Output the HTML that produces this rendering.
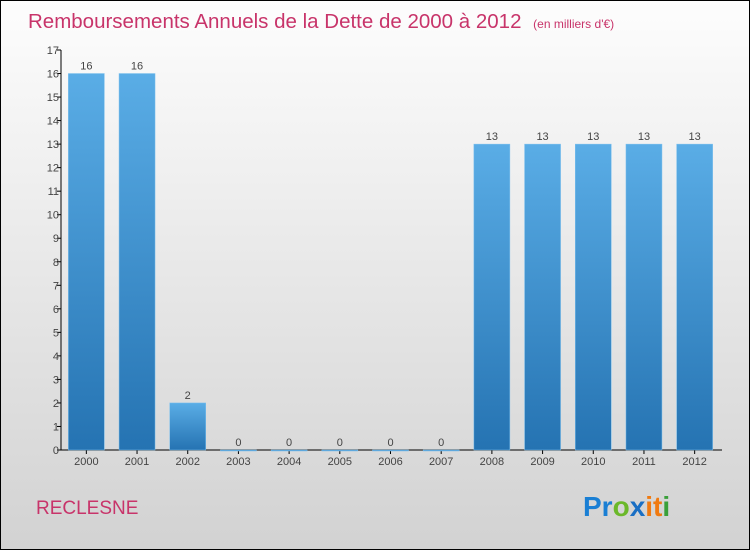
<!DOCTYPE html>
<html><head><meta charset="utf-8"><style>
body{margin:0;width:750px;height:550px;overflow:hidden}
svg{display:block;font-family:"Liberation Sans",sans-serif}
</style></head><body>
<svg width="750" height="550">
<defs>
<linearGradient id="bg" x1="0" y1="0" x2="0" y2="1"><stop offset="0" stop-color="#fdfdfd"/><stop offset="1" stop-color="#d2d2d2"/></linearGradient>
<linearGradient id="bar" x1="0" y1="0" x2="0" y2="1"><stop offset="0" stop-color="#5aade6"/><stop offset="1" stop-color="#2573b2"/></linearGradient>
</defs>
<rect x="0.5" y="0.5" width="749" height="549" fill="url(#bg)" stroke="#000"/>
<text x="28" y="28" font-size="20.5" fill="#c8346a">Remboursements Annuels de la Dette de 2000 à 2012 <tspan font-size="12" dx="6">(en milliers d'€)</tspan></text>
<g id="axes"></g><g id="bars"></g>
<text x="36" y="514" font-size="19" fill="#c8346a">RECLESNE</text>
<text x="583" y="516" font-size="28" font-weight="bold"><tspan fill="#1a7fd4">Pr</tspan><tspan fill="#6bb82a">o</tspan><tspan fill="#1a6fc4">x</tspan><tspan fill="#f07a10">it</tspan><tspan fill="#3aa03a">i</tspan></text>
</svg>
<script>
const categories=["2000","2001","2002","2003","2004","2005","2006","2007","2008","2009","2010","2011","2012"];
const values=[16,16,2,0,0,0,0,0,13,13,13,13,13];
const yTicks=[0,1,2,3,4,5,6,7,8,9,10,11,12,13,14,15,16,17];
const NS="http://www.w3.org/2000/svg";
const L=61,R=720,T=50,B=450,yMax=17;
const y=v=>B-(v/yMax)*(B-T);
const step=(R-L)/categories.length;
const x=i=>L+step*(i+0.5);
function mk(tag,attrs,parent,text){const e=document.createElementNS(NS,tag);for(const k in attrs)e.setAttribute(k,attrs[k]);if(text!==undefined)e.textContent=text;parent.appendChild(e);return e;}
const ax=document.getElementById('axes'),bg=document.getElementById('bars');
let e=mk('line',{x1:L,y1:T,x2:L,y2:B,stroke:'#000'},ax);


e=mk('line',{x1:L,y1:B,x2:R+2,y2:B,stroke:'#000'},ax);


yTicks.forEach(t=>{
 mk('line',{x1:L-4,y1:y(t),x2:L,y2:y(t),stroke:'#000'},ax);
 e=mk('text',{x:L-2,y:y(t)+4,'font-size':11,fill:'#444','text-anchor':'end'},ax,String(t));
 
 
});
categories.forEach((c,i)=>{
 const w=36,h=B-y(values[i]);
 e=mk('rect',{x:x(i)-w/2,y:y(values[i]),width:w,height:Math.max(h,1),fill:'url(#bar)',stroke:'#7cc0ee','stroke-width':0.5},bg);
 
 
 e=mk('text',{x:x(i),y:y(values[i])-4,'font-size':11,fill:'#444','text-anchor':'middle'},bg,String(values[i]));
 
 
 mk('line',{x1:x(i),y1:B,x2:x(i),y2:B+4,stroke:'#000'},ax);
 e=mk('text',{x:x(i),y:B+15,'font-size':11,fill:'#444','text-anchor':'middle'},ax,c);
 
 
});
</script>
</body></html>
